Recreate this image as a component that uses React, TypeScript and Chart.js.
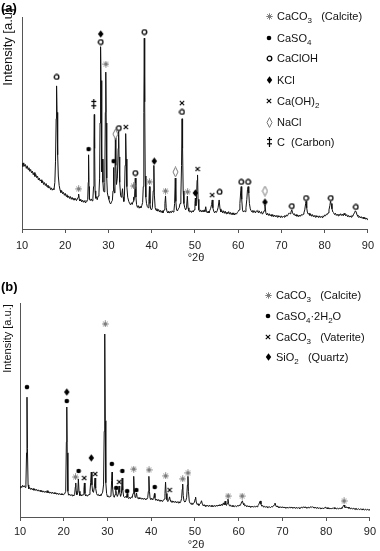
import React, { useEffect, useRef } from "react";
import { Chart, registerables } from "chart.js";

Chart.register(...registerables);

// ---------------- DATA: panel (a) ----------------
const patternA: [number, number][] = [
  [10,31],[10.2,29.5],[10.4,31.2],[10.6,29.6],[10.8,30.4],[11,28.6],[11.2,29.8],[11.4,28],[11.6,28.9],[11.8,27.2],[12,28.1],[12.2,26.5],[12.4,27.3],[12.6,25.6],[12.8,26.6],[13,24.8],[13.2,25.7],[13.4,24.2],[13.6,24.9],[13.8,23.1],[14,24],[14.2,22.6],[14.4,23.2],[14.6,21.8],[14.8,22.6],[15,21],[15.2,21.9],[15.4,20.5],[15.6,21.4],[15.8,19.8],[16,20.7],[16.2,19.3],[16.4,20],[16.6,18.6],[16.8,19.4],[17,18.3],[17.2,19],[17.4,18.6],
  [17.6,22],[17.75,32],[17.9,52],[18,67.5],[18.1,55],[18.25,35],[18.4,25],[18.6,20.5],[18.8,18.4],
  [19,17.2],[19.2,18],[19.4,16.6],[19.6,17.3],[19.8,15.9],[20,16.8],[20.2,15.4],[20.4,16.2],[20.6,14.8],[20.8,15.6],[21,14.4],[21.2,15.3],[21.4,14],[21.6,14.9],[21.8,13.8],[22,14.6],[22.2,13.6],[22.4,14.4],[22.6,13.4],[22.8,14.2],[23,15],[23.1,16.5],[23.25,14],[23.4,13.2],[23.6,14],[23.8,12.8],[24,13.6],[24.2,12.6],[24.4,13.4],[24.6,12.5],[24.8,13.4],[25,13],[25.2,14],
  [25.32,22],[25.4,35],[25.5,20],[25.6,14],[25.8,13.4],[26,14.2],[26.2,13.3],[26.4,14.5],[26.55,20],[26.65,42],[26.72,54],[26.8,38],[26.9,18],[27.05,14.5],[27.2,15.2],[27.4,13.8],[27.6,15.5],[27.8,17],[27.95,24],[28.05,50],[28.15,80],[28.2,86],[28.28,70],[28.38,40],[28.5,27],[28.62,33],[28.72,22],[28.85,18],[29,17.5],[29.15,22],[29.28,55],[29.38,74],[29.48,50],[29.6,24],[29.75,17],[29.9,15.5],[30.1,14],[30.3,12.4],[30.5,11.8],[30.7,12.8],[30.9,13.5],[31.05,18],[31.15,29],[31.25,20],[31.4,17],[31.5,26],[31.6,43],[31.7,30],[31.85,21],[32.05,24],[32.25,38],[32.35,46],[32.45,34],[32.6,22],[32.8,16],[32.95,15],[33.1,16.5],[33.25,19],[33.4,15],[33.55,13],[33.7,16],[33.85,30],[33.98,45],[34.1,33],[34.25,20],[34.45,15],[34.7,13],[34.9,12],[35.1,11.4],[35.3,12.4],[35.5,11.6],[35.7,13],[35.8,15],[35.9,13.5],[36.05,16],[36.2,24],[36.35,15],[36.5,11.5],[36.7,10.2],[36.9,11],[37.1,9.8],[37.3,10.6],[37.5,10],[37.7,11],[37.9,12.5],[38.05,20],[38.18,55],[38.28,90],[38.38,60],[38.5,25],[38.65,15],[38.8,12],[39,10.5],[39.2,10],[39.35,13],[39.48,20],[39.6,12],[39.75,9.5],[39.95,9],[40.15,10],[40.35,18],[40.5,30],[40.62,16],[40.8,10],[41,8.8],[41.2,9.6],[41.4,8.4],[41.6,9.2],[41.8,8],[42,8.8],[42.2,7.8],[42.4,8.6],[42.6,7.6],[42.85,9],[43.05,12],[43.2,15.6],[43.35,10],[43.55,8.2],[43.75,7.6],[43.95,8.4],[44.15,7.5],[44.35,8.3],[44.55,7.7],[44.75,8.6],[44.95,8],[45.15,8.8],[45.3,12],[45.45,24],[45.58,13],[45.75,9],[45.95,8.5],[46.15,9.5],[46.35,10],[46.55,12],[46.75,16],[46.9,30],[47.02,52],[47.14,38],[47.28,18],[47.45,12],[47.65,10],[47.85,9],[48.05,10],[48.25,15.5],[48.4,10],[48.6,8.4],[48.8,8],[49,8.6],[49.2,7.8],[49.4,8.6],[49.6,8],[49.8,9],[50,12],[50.1,14.6],[50.22,11],[50.35,14],[50.5,23],[50.6,25.5],[50.72,14],[50.9,9],[51.1,8.2],[51.3,9],[51.5,8],[51.7,8.8],[51.9,8],[52.1,9],[52.3,8.2],[52.5,10.5],[52.65,8.4],[52.85,7.6],[53.05,8.4],[53.25,7.6],[53.45,8.8],[53.65,9.8],[53.85,11.5],[54,13.7],[54.15,10],[54.35,8.4],[54.55,7.6],[54.75,8.4],[54.95,7.8],[55.15,8.6],[55.35,10],[55.6,13.7],[55.8,9.5],[56,8],[56.2,8.8],[56.4,7.6],[56.6,8.6],[56.8,7.4],[57,8.4],[57.2,7.2],[57.4,8],[57.6,7.2],[57.8,8.2],[58,7],[58.2,7.8],[58.4,6.8],[58.6,7.6],[58.8,6.8],[59,7.6],[59.2,6.6],[59.4,7.4],[59.6,7],[59.8,7.8],[60,8.2],[60.2,9],[60.4,12],[60.6,18],[60.7,20],[60.82,14],[61,9],[61.2,8],[61.4,8.6],[61.6,8.2],[61.8,10],[62,14],[62.15,18.5],[62.3,20],[62.45,17],[62.6,12],[62.8,9.5],[63,8.6],[63.2,8],[63.4,8.8],[63.6,7.8],[63.8,8.6],[64,7.6],[64.2,8.4],[64.4,8.8],[64.6,7.8],[64.8,8.6],[65,8],[65.2,7.4],[65.4,8.2],[65.6,7],[65.8,7.6],[66,8.6],[66.2,11.3],[66.4,7.6],[66.6,6.6],[66.8,7.4],[67,6.4],[67.2,7.2],[67.4,6.2],[67.6,6.8],[67.8,6],[68,6.8],[68.2,5.8],[68.4,6.6],[68.6,5.8],[68.8,6.4],[69,5.6],[69.2,6.4],[69.4,5.6],[69.6,6.2],[69.8,5.4],[70,6.2],[70.2,5.4],[70.4,6],[70.6,5.6],[70.8,6.4],[71,5.8],[71.2,6.6],[71.4,6.2],[71.6,7],[71.8,7.6],[72,7.2],[72.2,8],[72.4,9],[72.6,7.6],[72.8,6.8],[73,7.2],[73.2,6.2],[73.4,6.8],[73.6,6],[73.8,6.6],[74,5.8],[74.2,6.6],[74.4,6],[74.6,6.8],[74.8,6.4],[75,7],[75.2,7.6],[75.4,9],[75.6,12],[75.7,13],[75.85,10],[76,8],[76.2,7],[76.4,7.4],[76.6,6.4],[76.8,7],[77,6],[77.2,6.8],[77.4,5.8],[77.6,6.4],[77.8,5.6],[78,6.4],[78.2,5.6],[78.4,6.2],[78.6,5.4],[78.8,6.2],[79,5.4],[79.2,6],[79.4,5.4],[79.6,6.2],[79.8,5.8],[80,6.6],[80.2,6.2],[80.4,7],[80.6,6.8],[80.8,7.6],[81,9],[81.2,11],[81.35,13],[81.5,12],[81.7,9.5],[81.9,8],[82.1,7.6],[82.3,6.8],[82.5,7.4],[82.7,6.4],[82.9,7],[83.1,6.2],[83.3,7],[83.5,6.4],[83.7,7.2],[83.9,6.4],[84.1,7],[84.3,6.2],[84.5,7.4],[84.7,6.6],[84.9,6.2],[85.1,6.8],[85.3,5.8],[85.5,6.4],[85.7,5.6],[85.9,6.2],[86.1,5.6],[86.3,6.4],[86.5,6],[86.7,7],[86.9,7.6],[87.1,8.6],[87.3,8],[87.5,6.6],[87.7,6],[87.9,5.4],[88.1,6],[88.3,5.2],[88.5,5.8],[88.7,5],[88.9,5.6],[89.1,4.8],[89.3,5.4],[89.5,4.6],[89.7,5.2],[89.9,4.4],[90,4.8],
];

const calciteA: [number, number][] = [[23.1,18.9],[29.4,77.8],[35.8,20.3],[39.5,22.2],[43.2,17.9],[48.3,17.5]];
const caso4A: [number, number][] = [[25.4,37.7],[31.2,32]];
const caclohA: [number, number][] = [[18.0,71.7],[28.2,88.2],[32.4,47.6],[36.2,26.4],[38.3,92.9],[47.0,55.2],[55.7,17.5],[60.7,22.2],[62.3,22.2],[72.4,10.8],[75.7,14.6],[81.4,14.6],[87.2,10.4]];
const kclA: [number, number][] = [[28.2,92],[40.6,32],[50.1,17],[66.2,12.7]];
const caoh2A: [number, number][] = [[34.0,48.1],[47.0,59.4],[50.6,28.3],[54.0,16]];
const naclA: [number, number][] = [[31.6,44.8],[45.5,26.9],[66.2,17.9]];
const carbonA: [number, number][] = [[26.6,59]];

const legendLabelsA = ["CaCO_3_   (Calcite)", "CaSO_4_", "CaClOH", "KCl", "Ca(OH)_2_", "NaCl", "C  (Carbon)"];
const legendGlyphsA = ["star", "dot", "ring", "diamond", "cross", "lozenge", "ddagger"];

// ---------------- DATA: panel (b) ----------------
const patternB: [number, number][] = [
  [10,13.6],[10.2,14.4],[10.4,13.8],[10.6,14.8],[10.8,14],[11,14.6],[11.2,13.8],[11.35,15],[11.5,30],[11.6,56],[11.7,32],[11.85,15],[12,13.2],[12.2,13.8],[12.4,12.9],[12.6,13.5],[12.8,12.7],[13,13.3],[13.2,12.5],[13.4,13.1],[13.6,12.4],[13.8,12.9],[14,12.1],[14.2,12.7],[14.4,12],[14.6,12.5],[14.8,11.8],[15,12.3],[15.2,11.6],[15.4,12.2],[15.6,11.5],[15.8,12],[16,11.4],[16.2,12.3],[16.4,11.3],[16.6,11.8],[16.8,11.1],[17,11.7],[17.2,11],[17.4,11.6],[17.6,10.9],[17.8,11.4],[18,10.8],[18.2,11.3],[18.4,10.6],[18.6,11.2],[18.8,10.5],[19,11],[19.2,10.4],[19.4,10.9],[19.6,10.3],[19.8,10.8],[20,10.4],[20.2,10.8],[20.45,12],[20.6,35],[20.7,51.4],[20.8,30],[20.95,12],[21.1,10.2],[21.3,10.7],[21.5,10],[21.7,10.5],[21.9,9.9],[22.1,10.4],[22.3,9.8],[22.5,10.6],[22.65,14],[22.75,15.9],[22.85,12],[23,10.4],[23.2,11.5],[23.35,17.8],[23.5,12],[23.7,10],[23.9,10.6],[24.1,9.8],[24.3,10.4],[24.5,10.4],[24.62,13],[24.72,15.9],[24.85,11],[25,9.8],[25.2,10.4],[25.4,9.7],[25.6,10.3],[25.8,10.5],[26,12],[26.15,16],[26.3,21],[26.45,15],[26.6,12],[26.8,11.5],[27,14],[27.15,18.2],[27.3,13.5],[27.5,11],[27.7,10.2],[27.9,10.6],[28.1,9.8],[28.3,10.4],[28.5,10],[28.7,10.8],[28.9,11.6],[29.1,15],[29.25,40],[29.38,85.5],[29.5,45],[29.62,16],[29.8,11],[30,9.4],[30.2,9.9],[30.4,9.2],[30.6,9.7],[30.8,10.2],[30.95,17],[31.05,21],[31.15,14],[31.35,10],[31.55,9.2],[31.75,10.5],[31.9,12.5],[32.05,11],[32.25,9.6],[32.45,10.6],[32.65,14.5],[32.8,11.5],[33,9.6],[33.2,11],[33.35,18.2],[33.5,12.5],[33.7,9.6],[33.9,9.1],[34.1,9.6],[34.3,9],[34.5,11],[34.65,9.2],[34.85,8.6],[35.05,9.2],[35.25,8.6],[35.45,9.4],[35.65,9],[35.85,11],[36,19],[36.12,13],[36.3,9.2],[36.5,9.6],[36.65,11.2],[36.8,9],[37,8.6],[37.2,9.2],[37.4,8.4],[37.6,9],[37.8,8.3],[38,8.8],[38.2,8.2],[38.4,8.8],[38.6,8.2],[38.8,8.6],[39,8.3],[39.2,9],[39.35,12],[39.47,19],[39.6,12],[39.75,8.6],[39.95,8.2],[40.15,8.8],[40.35,8],[40.55,8.6],[40.75,11],[40.85,9],[41,7.8],[41.2,8.4],[41.4,7.6],[41.6,8.2],[41.8,7.5],[42,8],[42.2,7.3],[42.4,7.9],[42.6,7.2],[42.8,7.8],[43,8.4],[43.15,11],[43.28,16.3],[43.42,11],[43.6,8],[43.8,7.2],[44,7.8],[44.2,9.4],[44.35,8],[44.55,7],[44.75,7.6],[44.95,6.8],[45.15,7.4],[45.35,6.8],[45.55,7.3],[45.75,6.6],[45.95,7.2],[46.15,6.6],[46.35,7.2],[46.55,6.5],[46.75,7.2],[46.95,8.6],[47.1,13],[47.2,15.4],[47.32,10],[47.5,7.4],[47.7,7],[47.9,7.6],[48.1,9],[48.28,15],[48.4,19],[48.52,12],[48.7,7.4],[48.9,6.4],[49.1,6],[49.3,6.6],[49.5,5.8],[49.7,6.4],[49.9,7],[50.05,8.4],[50.15,9.3],[50.3,7],[50.5,5.8],[50.7,6.2],[50.9,5.4],[51.1,6],[51.3,6.4],[51.5,7.6],[51.7,6],[51.9,5.2],[52.1,5.8],[52.3,5],[52.5,5.6],[52.7,5],[52.9,5.5],[53.1,4.9],[53.3,5.5],[53.5,4.9],[53.7,5.4],[53.9,4.8],[54.1,5.4],[54.3,4.8],[54.5,5.4],[54.7,4.9],[54.9,5.5],[55.1,5],[55.3,5.6],[55.5,5.2],[55.7,5.8],[55.9,5.2],[56.1,6],[56.3,5.4],[56.5,6.6],[56.7,5.6],[56.9,7.4],[57.05,5.8],[57.2,5.4],[57.4,6.4],[57.55,8.4],[57.7,6.2],[57.9,5.2],[58.1,5.6],[58.3,4.9],[58.5,5.4],[58.7,4.8],[58.9,5.3],[59.1,4.8],[59.3,5.2],[59.5,4.8],[59.7,5.4],[59.9,5],[60.1,5.6],[60.3,5.4],[60.5,6],[60.7,7.2],[60.85,7.5],[61,6.4],[61.2,5.6],[61.4,5.2],[61.6,5.6],[61.8,4.8],[62,5.3],[62.2,4.7],[62.4,5.2],[62.6,4.6],[62.8,5.1],[63,4.6],[63.2,5.1],[63.4,4.6],[63.6,5],[63.8,4.6],[64,5.1],[64.2,4.8],[64.4,5.4],[64.6,5.8],[64.8,7],[64.95,7.5],[65.1,6],[65.3,5],[65.5,5.4],[65.7,4.6],[65.9,5],[66.1,4.5],[66.3,5],[66.5,4.4],[66.7,4.9],[66.9,4.4],[67.1,4.8],[67.3,4.4],[67.5,4.9],[67.7,4.6],[67.9,5.2],[68.1,5.6],[68.3,6.5],[68.45,5.6],[68.6,4.8],[68.8,5.2],[69,4.5],[69.2,4.9],[69.4,4.3],[69.6,4.8],[69.8,4.3],[70,4.8],[70.2,4.2],[70.4,4.7],[70.6,4.2],[70.8,4.6],[71,4.1],[71.2,4.6],[71.4,4.1],[71.6,4.6],[71.8,4.2],[72,4.7],[72.2,4.2],[72.4,4.6],[72.6,4.1],[72.8,4.6],[73,4],[73.2,4.5],[73.4,4],[73.6,4.5],[73.8,4],[74,4.5],[74.2,4.1],[74.4,4.6],[74.6,4.2],[74.8,4.8],[75,4.3],[75.2,4.8],[75.4,4.2],[75.6,4.6],[75.8,4.1],[76,4.6],[76.2,4.2],[76.4,4.8],[76.6,4.4],[76.8,4.9],[77,4.4],[77.2,4.7],[77.4,4.1],[77.6,4.6],[77.8,4],[78,4.5],[78.2,3.9],[78.4,4.4],[78.6,3.9],[78.8,4.3],[79,3.8],[79.2,4.3],[79.4,3.8],[79.6,4.3],[79.8,4.6],[80,4],[80.2,4.4],[80.4,3.8],[80.6,4.3],[80.8,3.7],[81,4.2],[81.2,3.7],[81.4,4.2],[81.6,3.9],[81.8,4.4],[82,3.8],[82.2,4.2],[82.4,3.7],[82.6,4.1],[82.8,3.7],[83,4.2],[83.2,3.8],[83.4,4.3],[83.6,4],[83.8,4.6],[83.95,5.4],[84.1,5.6],[84.25,4.6],[84.4,4.2],[84.6,4.8],[84.8,4.2],[85,4.6],[85.2,4],[85.4,4.4],[85.6,3.8],[85.8,4.2],[86,3.7],[86.2,4.1],[86.4,3.6],[86.6,4],[86.8,3.5],[87,3.9],[87.2,3.5],[87.4,3.9],[87.6,3.4],[87.8,3.8],[88,3.4],[88.2,3.8],[88.4,3.3],[88.6,3.7],[88.8,3.3],[89,3.7],[89.2,3.2],[89.4,3.6],[89.6,3.2],[89.8,3.5],[90,3.2],
];

const calciteB: [number, number][] = [[22.7,18.7],[29.5,90.2],[36.0,22.4],[39.5,22],[43.3,19.2],[47.2,17.8],[48.4,20.6],[57.6,9.8],[60.8,9.8],[84.1,7.5]];
const gypsumB: [number, number][] = [[11.6,60.7],[20.7,54.2],[23.4,21.5],[31.0,24.8],[32.0,13.6],[33.4,21.5],[34.5,12.1],[36.6,12.6],[40.8,14]];
const vateriteB: [number, number][] = [[24.7,18.2],[27.2,20.1],[32.7,16.4],[44.2,12.6]];
const quartzB: [number, number][] = [[20.7,58.4],[26.3,27.6]];

const legendLabelsB = ["CaCO_3_   (Calcite)", "CaSO_4_·2H_2_O", "CaCO_3_   (Vaterite)", "SiO_2_   (Quartz)"];
const legendGlyphsB = ["star", "dot", "cross", "diamond"];

const xTicks = [10, 20, 30, 40, 50, 60, 70, 80, 90];

const FONT = '"Liberation Sans", Arial, sans-serif';

// ---------------- glyphs ----------------
function makeGlyph(kind: string): HTMLCanvasElement {
  const dims: Record<string, [number, number]> = {
    star: [7, 7], dot: [6, 6], ring: [7, 7], diamond: [7, 8], cross: [6, 6], lozenge: [7, 11], ddagger: [7, 10],
  };
  const [w, h] = dims[kind];
  const c = document.createElement("canvas");
  c.width = w; c.height = h;
  const g = c.getContext("2d")!;
  g.lineCap = "butt";
  const line = (x1: number, y1: number, x2: number, y2: number) => { g.beginPath(); g.moveTo(x1, y1); g.lineTo(x2, y2); g.stroke(); };
  if (kind === "star") {
    g.strokeStyle = "#7d7d7d"; g.lineWidth = 1;
    line(3.5, 0.3, 3.5, 6.7); line(0.3, 3.5, 6.7, 3.5); line(1.2, 1.2, 5.8, 5.8); line(1.2, 5.8, 5.8, 1.2);
  } else if (kind === "dot") {
    g.fillStyle = "#000"; g.beginPath(); g.arc(3, 3, 2.3, 0, Math.PI * 2); g.fill();
  } else if (kind === "ring") {
    g.fillStyle = "#fff"; g.strokeStyle = "#000"; g.lineWidth = 1.3;
    g.beginPath(); g.arc(3.5, 3.5, 2.3, 0, Math.PI * 2); g.fill(); g.stroke();
  } else if (kind === "diamond") {
    g.fillStyle = "#000"; g.beginPath(); g.moveTo(3.5, 0.3); g.lineTo(6.2, 4); g.lineTo(3.5, 7.7); g.lineTo(0.8, 4); g.closePath(); g.fill();
  } else if (kind === "cross") {
    g.strokeStyle = "#000"; g.lineWidth = 1.1;
    line(0.8, 0.8, 5.2, 5.2); line(0.8, 5.2, 5.2, 0.8);
  } else if (kind === "lozenge") {
    g.fillStyle = "#fff"; g.strokeStyle = "#777"; g.lineWidth = 1;
    g.beginPath(); g.moveTo(3.5, 0.6); g.lineTo(6, 5.5); g.lineTo(3.5, 10.4); g.lineTo(1, 5.5); g.closePath(); g.fill(); g.stroke();
  } else if (kind === "ddagger") {
    g.strokeStyle = "#000"; g.lineWidth = 1.2;
    line(3.5, 0, 3.5, 10); line(1, 2.5, 6, 2.5); line(1, 6.8, 6, 6.8);
  }
  return c;
}

function drawRich(ctx: CanvasRenderingContext2D, text: string, x: number, y: number, size: number) {
  const parts = text.split("_");
  let cx = x;
  parts.forEach((part, i) => {
    const sub = i % 2 === 1;
    const fs = sub ? Math.round(size * 0.72) : size;
    ctx.font = `${fs}px ${FONT}`;
    ctx.fillText(part, cx, y + (sub ? 3 : 0));
    cx += ctx.measureText(part).width;
  });
}

type Panel = {
  label: string; labelY: number;
  yTitle: string; yTitleSize: number; yTitleX: number; yTitleY: number;
  xTitleY: number;
  legendLabels: string[]; legendGlyphs: string[]; legendRows: number[]; legendSymX: number; legendTextX: number;
};

function panelPlugin(p: Panel, glyphs: Record<string, HTMLCanvasElement>) {
  return {
    id: "panelText",
    afterDraw(chart: any) {
      const ctx: CanvasRenderingContext2D = chart.ctx;
      ctx.save();
      ctx.fillStyle = "#000";
      ctx.textAlign = "left";
      ctx.textBaseline = "middle";
      ctx.font = `bold 13px ${FONT}`;
      ctx.fillText(p.label, 1, p.labelY);

      ctx.save();
      ctx.translate(p.yTitleX, p.yTitleY);
      ctx.rotate(-Math.PI / 2);
      ctx.textAlign = "center";
      ctx.fillStyle = "#111";
      ctx.font = `${p.yTitleSize}px ${FONT}`;
      ctx.fillText(p.yTitle, 0, 0);
      ctx.restore();

      ctx.textAlign = "center";
      ctx.fillStyle = "#222";
      ctx.font = `11px ${FONT}`;
      ctx.fillText("°2θ", 196, p.xTitleY);

      ctx.textAlign = "left";
      ctx.textBaseline = "alphabetic";
      ctx.fillStyle = "#111";
      p.legendLabels.forEach((lab, i) => {
        const g = glyphs[p.legendGlyphs[i]];
        const y = p.legendRows[i];
        ctx.drawImage(g, Math.round(p.legendSymX - g.width / 2), Math.round(y - g.height / 2));
        drawRich(ctx, lab, p.legendTextX, y + 4, 11);
      });
      ctx.restore();
    },
  };
}

function markerSet(data: [number, number][], glyph: HTMLCanvasElement) {
  return {
    type: "scatter" as const,
    data: data.map(([x, y]) => ({ x, y })),
    pointStyle: glyph,
    pointRadius: 3,
    showLine: false,
    clip: false as any,
  };
}

function buildConfig(
  pattern: [number, number][],
  markers: any[],
  plugin: any,
  pad: { left: number; right: number; top: number },
  xAxisHeight: number,
  tickPad: number
): any {
  return {
    type: "scatter",
    data: {
      datasets: [
        ...markers,
        {
          type: "scatter",
          data: pattern.map(([x, y]) => ({ x, y })),
          showLine: true,
          borderColor: "#111",
          borderWidth: 1,
          pointRadius: 0,
          tension: 0,
        },
      ],
    },
    options: {
      animation: false,
      responsive: false,
      devicePixelRatio: 1,
      events: [],
      layout: { padding: { left: pad.left, right: pad.right, top: pad.top, bottom: 0 } },
      plugins: { legend: { display: false }, tooltip: { enabled: false } },
      scales: {
        x: {
          type: "linear",
          min: 10,
          max: 90,
          afterBuildTicks: (s: any) => { s.ticks = xTicks.map((v) => ({ value: v })); },
          ticks: { font: { size: 11, family: FONT }, color: "#222", padding: tickPad, maxRotation: 0, autoSkip: false },
          grid: { display: true, drawOnChartArea: false, drawTicks: true, tickLength: 4, color: "#555" },
          border: { display: true, color: "#555", width: 1 },
          afterFit: (s: any) => { s.height = xAxisHeight; },
        },
        y: {
          min: 0,
          max: 100,
          ticks: { display: false },
          grid: { display: false },
          border: { display: true, color: "#555", width: 1 },
          afterFit: (s: any) => { s.width = 0; },
        },
      },
    },
    plugins: [plugin],
  };
}

export default function App() {
  const refA = useRef<HTMLCanvasElement>(null);
  const refB = useRef<HTMLCanvasElement>(null);

  useEffect(() => {
    const kinds = ["star", "dot", "ring", "diamond", "cross", "lozenge", "ddagger"];
    const glyphs: Record<string, HTMLCanvasElement> = {};
    kinds.forEach((k) => (glyphs[k] = makeGlyph(k)));

    const panelA: Panel = {
      label: "(a)", labelY: 8,
      yTitle: "Intensity [a.u]", yTitleSize: 13, yTitleX: 8.5, yTitleY: 47,
      xTitleY: 258,
      legendLabels: legendLabelsA, legendGlyphs: legendGlyphsA,
      legendRows: [16, 38, 58, 80, 101, 122, 142], legendSymX: 269, legendTextX: 277,
    };
    const panelB: Panel = {
      label: "(b)", labelY: 12,
      yTitle: "Intensity [a.u.]", yTitleSize: 11, yTitleX: 8, yTitleY: 63.5,
      xTitleY: 270,
      legendLabels: legendLabelsB, legendGlyphs: legendGlyphsB,
      legendRows: [20, 41, 62, 82], legendSymX: 268, legendTextX: 276,
    };

    const chartA = new Chart(
      refA.current!,
      buildConfig(
        patternA,
        [
          markerSet(calciteA, glyphs.star),
          markerSet(caso4A, glyphs.dot),
          markerSet(caclohA, glyphs.ring),
          markerSet(kclA, glyphs.diamond),
          markerSet(caoh2A, glyphs.cross),
          markerSet(naclA, glyphs.lozenge),
          markerSet(carbonA, glyphs.ddagger),
        ],
        panelPlugin(panelA, glyphs),
        { left: 22, right: 11, top: 17 },
        41,
        6
      )
    );
    const chartB = new Chart(
      refB.current!,
      buildConfig(
        patternB,
        [
          markerSet(calciteB, glyphs.star),
          markerSet(gypsumB, glyphs.dot),
          markerSet(vateriteB, glyphs.cross),
          markerSet(quartzB, glyphs.diamond),
        ],
        panelPlugin(panelB, glyphs),
        { left: 20, right: 8, top: 28 },
        34,
        4
      )
    );
    return () => {
      chartA.destroy();
      chartB.destroy();
    };
  }, []);

  return (
    <div style={{ position: "absolute", left: 0, top: 0, width: 380, height: 551, background: "#fff" }}>
      <canvas ref={refA} width={380} height={270} style={{ position: "absolute", left: 0, top: 0, width: 380, height: 270 }} />
      <canvas ref={refB} width={380} height={276} style={{ position: "absolute", left: 0, top: 275, width: 380, height: 276 }} />
    </div>
  );
}
